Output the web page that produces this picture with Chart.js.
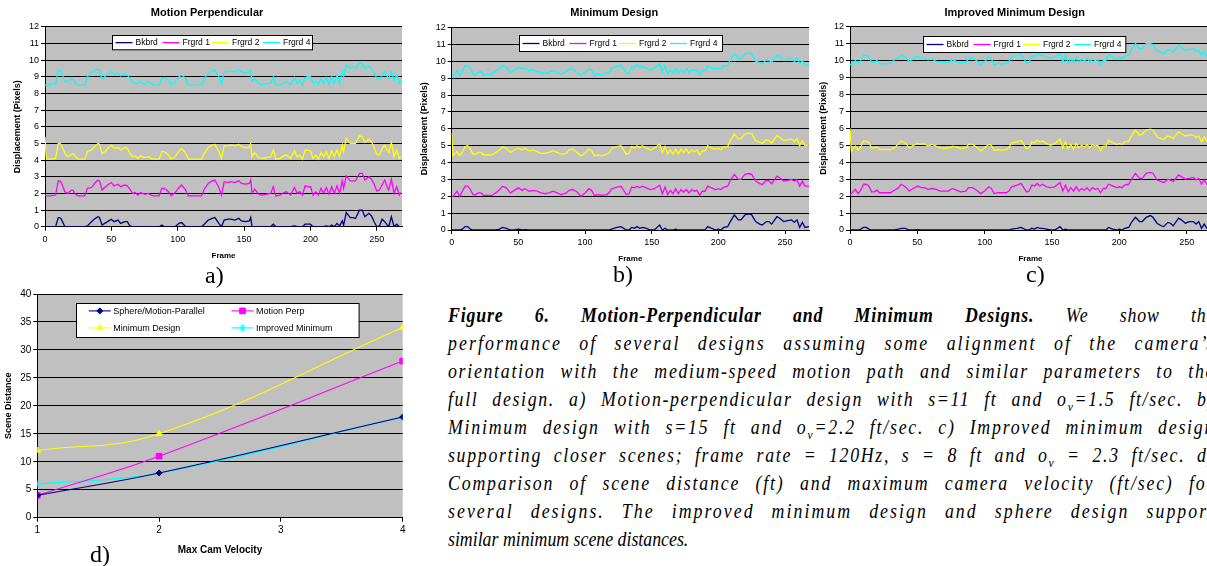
<!DOCTYPE html>
<html>
<head>
<meta charset="utf-8">
<title>Figure 6</title>
<script src="https://cdn.jsdelivr.net/npm/chart.js@4/dist/chart.umd.min.js"></script>
<style>
  html, body { margin: 0; padding: 0; background: #fff; }
  body { position: relative; width: 1207px; height: 566px; overflow: hidden; }
  canvas { position: absolute; }
  .tag { position: absolute; font-family: "Liberation Serif", "Times New Roman", serif; font-size: 24px; line-height: 24px; color: #000; }
  #caption { position: absolute; left: 448px; top: 301px; width: 862px; transform: scaleX(0.89); transform-origin: 0 0;
             font-family: "Liberation Serif", "Times New Roman", serif; font-style: italic; font-size: 20px; line-height: 28px; color: #000; }
  #caption div { text-align: justify; text-align-last: justify; height: 28px; white-space: nowrap; }
  #caption div.last { text-align-last: left; }
  #caption sub { font-size: 13px; line-height: 0; }
</style>
</head>
<body>
<canvas id="chartA" width="420" height="262" style="left:0;top:0"></canvas>
<canvas id="chartB" width="410" height="264" style="left:410px;top:0"></canvas>
<canvas id="chartC" width="412" height="264" style="left:810px;top:0"></canvas>
<canvas id="chartD" width="420" height="275" style="left:0;top:285px"></canvas>

<div class="tag" style="left:205px;top:263px">a)</div>
<div class="tag" style="left:613px;top:262px">b)</div>
<div class="tag" style="left:1026px;top:262px">c)</div>
<div class="tag" style="left:90px;top:542px">d)</div>

<div id="caption">
  <div data-spread="0.2"><span><b>Figure 6. Motion-Perpendicular and Minimum Designs.</b> We show the</span></div>
  <div><span>performance of several designs assuming some alignment of the camera’s</span></div>
  <div><span>orientation with the medium-speed motion path and similar parameters to the</span></div>
  <div><span>full design. a) Motion-perpendicular design with s=11 ft and o<sub>v</sub>=1.5 ft/sec. b)</span></div>
  <div><span>Minimum design with s=15 ft and o<sub>v</sub>=2.2 ft/sec. c) Improved minimum design</span></div>
  <div><span>supporting closer scenes; frame rate = 120Hz, s = 8 ft and o<sub>v</sub> = 2.3 ft/sec. d)</span></div>
  <div><span>Comparison of scene distance (ft) and maximum camera velocity (ft/sec) for</span></div>
  <div><span>several designs. The improved minimum design and sphere design support</span></div>
  <div class="last"><span>similar minimum scene distances.</span></div>
</div>

<script>
// ---- data ----

// a) Motion Perpendicular
const framesA = [
  0,1,4,8,10,11,12,15,17,20,
  21,23,25,30,32,35,38,40,41,43,
  45,48,50,52,55,57,60,62,64,66,
  68,70,72,75,78,80,82,86,88,90,
  93,95,98,101,103,106,108,118,120,123,
  126,128,131,133,135,138,140,143,146,148,
  151,154,155,156,158,161,164,167,170,172,
  174,177,180,182,185,188,190,192,194,196,
  198,200,202,204,206,208,210,212,214,216,
  218,220,222,224,225,227,230,232,234,237,
  239,241,244,246,248,250,252,254,256,258,
  259,261,263,265,267,268
];
const bkbrdA = [
  0,0,0,0,0.55,0.55,0.5,0,0,0,
  0,0,0,0,0.05,0.3,0.5,0.6,0.55,0.1,
  0.2,0.35,0.45,0.3,0.4,0.2,0.3,0.3,0.05,0,
  0,0,0,0,0,0,0,0,0.1,0,
  0,0,0,0.2,0.25,0,0,0,0.15,0.4,
  0.5,0.55,0.2,0,0.4,0.45,0.45,0.4,0.5,0.35,
  0.3,0.35,0.55,0,0,0,0,0,0,0.15,
  0,0,0,0,0,0.05,0,0,0,0.15,
  0.15,0.15,0,0,0,0,0,0.05,0,0.1,
  0,0.2,0.05,0.35,0.1,0.85,0.55,0.55,0.5,1.0,
  1.0,0.6,0.8,0.65,0.3,0,0.05,0.45,0.3,0.1,
  0,0.6,0,0.15,0,0
];
const frgrd1A = [
  1.9,1.85,1.85,1.9,2.75,2.75,2.7,2.1,2.0,2.2,
  2.2,1.95,1.85,1.85,2.3,2.35,2.65,2.8,2.75,2.2,
  2.35,2.55,2.65,2.45,2.55,2.4,2.5,2.45,2.25,2.0,
  2.05,1.9,2.05,1.95,2.0,1.9,1.85,1.85,2.3,2.3,
  2.1,1.85,2.05,2.35,2.5,2.2,1.85,1.85,2.25,2.6,
  2.75,2.8,2.35,1.9,2.7,2.65,2.7,2.65,2.75,2.6,
  2.55,2.6,2.8,2.0,2.25,1.95,1.9,1.95,2.0,2.4,
  1.85,1.9,2.05,2.1,1.9,2.35,2.0,2.1,1.9,2.45,
  2.4,2.4,1.9,2.1,1.9,2.3,2.0,2.35,1.95,2.4,
  2.0,2.45,2.0,2.75,2.3,3.05,2.75,2.75,2.75,3.2,
  3.2,2.8,3.0,2.85,2.55,2.15,2.2,2.5,2.8,2.35,
  2.2,2.85,2.0,2.4,1.9,2.05
];
const frgrd2A = [
  5.4,4.05,4.05,4.1,5.0,5.0,4.95,4.4,4.2,4.35,
  4.4,4.2,4.05,4.05,4.5,4.6,4.85,5.0,4.95,4.4,
  4.5,4.75,4.9,4.7,4.75,4.6,4.75,4.7,4.4,4.2,
  4.25,4.1,4.25,4.15,4.2,4.1,4.05,4.05,4.5,4.5,
  4.3,4.05,4.2,4.55,4.7,4.4,4.05,4.05,4.4,4.75,
  4.9,4.95,4.5,4.1,4.85,4.85,4.9,4.85,4.95,4.8,
  4.75,4.75,5.0,4.2,4.45,4.15,4.1,4.15,4.2,4.6,
  4.05,4.1,4.25,4.3,4.1,4.55,4.2,4.3,4.05,4.6,
  4.6,4.55,4.1,4.3,4.05,4.45,4.2,4.5,4.1,4.55,
  4.2,4.6,4.2,4.9,4.5,5.3,5.0,5.0,5.0,5.45,
  5.4,5.05,5.25,5.1,4.75,4.35,4.3,4.7,4.9,4.55,
  4.45,5.05,4.2,4.6,4.1,4.2
];
const frgrd4A = [
  8.5,8.5,8.55,8.55,9.4,9.4,9.35,8.7,8.7,8.9,
  8.85,8.6,8.5,8.5,9.0,9.25,9.4,9.45,9.4,8.85,
  9.0,9.2,9.3,9.15,9.2,9.05,9.15,9.1,8.9,8.7,
  8.6,8.6,8.7,8.55,8.7,8.6,8.5,8.5,8.9,8.95,
  8.8,8.5,8.7,9.0,9.1,8.9,8.5,8.5,8.9,9.2,
  9.35,9.4,9.0,8.55,9.3,9.3,9.35,9.3,9.4,9.3,
  9.2,9.3,9.4,8.7,8.9,8.6,8.5,8.6,8.6,9.0,
  8.5,8.5,8.6,8.7,8.5,8.95,8.6,8.8,8.5,8.95,
  9.0,9.0,8.6,8.7,8.55,8.9,8.6,8.95,8.55,9.0,
  8.6,9.1,8.6,9.3,9.0,9.7,9.5,9.6,9.5,9.85,
  9.8,9.5,9.65,9.5,9.2,8.9,8.8,9.1,9.3,9.0,
  8.9,9.3,8.8,9.1,8.6,8.8
];

// b) Minimum Design and c) Improved Minimum Design share the sampled frames
const framesBC = [
  0,1,4,6,8,10,12,14,16,18,
  20,22,24,30,33,36,38,41,44,47,
  50,53,55,58,61,64,67,70,73,76,
  79,82,86,88,91,94,97,100,103,105,
  107,110,113,116,118,120,124,127,131,133,
  135,137,139,141,143,146,149,152,156,158,
  160,162,164,166,168,170,172,174,176,178,
  180,182,184,186,188,190,192,195,198,200,
  202,204,207,209,212,215,217,220,223,225,
  228,231,233,236,238,240,244,246,249,252,
  255,257,259,261,263,265,268
];
const bkbrdB = [
  0,0,0,0,0.05,0.2,0.2,0.05,0,0,
  0,0,0,0,0,0.05,0.15,0.1,0,0,
  0.05,0,0.02,0,0,0,0,0,0,0,
  0,0,0,0,0,0,0,0,0,0,
  0,0,0,0,0,0.05,0.15,0.2,0,0,
  0.15,0.1,0.2,0.1,0.15,0.1,0,0,0.3,0,
  0.1,0,0,0,0.05,0,0,0,0,0,
  0,0,0,0,0,0,0.2,0.1,0,0.05,
  0,0.15,0.2,0.5,0.9,0.6,0.6,0.9,0.95,0.9,
  0.5,0.35,0.3,0.5,0.5,0.35,0.8,0.7,0.5,0.55,
  0.6,0.45,0.6,0.15,0.45,0.15,0.2
];
const frgrd1B = [
  2.0,2.0,2.3,2.0,2.3,2.6,2.6,2.4,2.1,2.1,
  2.2,2.2,2.05,2.05,2.2,2.4,2.6,2.5,2.2,2.35,
  2.5,2.35,2.45,2.3,2.35,2.3,2.2,2.15,2.2,2.3,
  2.2,2.1,2.2,2.35,2.4,2.25,2.0,2.2,2.45,2.35,
  2.05,2.1,2.05,2.1,2.2,2.45,2.55,2.6,2.1,2.15,
  2.55,2.5,2.6,2.5,2.6,2.5,2.4,2.45,2.65,2.15,
  2.55,2.1,2.35,2.15,2.45,2.15,2.4,2.25,2.4,2.2,
  2.4,2.3,2.35,2.05,2.3,2.3,2.6,2.5,2.4,2.45,
  2.4,2.55,2.6,2.95,3.3,3.0,3.0,3.3,3.35,3.3,
  2.9,2.75,2.7,2.95,2.9,2.75,3.2,3.1,2.9,2.95,
  3.0,2.9,3.0,2.6,2.9,2.6,2.6
];
const frgrd2B = [
  5.75,4.4,4.65,4.4,4.6,4.95,5.0,4.8,4.5,4.5,
  4.6,4.6,4.45,4.45,4.6,4.75,4.95,4.85,4.6,4.75,
  4.85,4.75,4.85,4.7,4.75,4.65,4.55,4.55,4.6,4.7,
  4.6,4.5,4.55,4.75,4.8,4.6,4.4,4.55,4.8,4.7,
  4.4,4.45,4.4,4.5,4.55,4.85,4.95,5.0,4.5,4.55,
  4.95,4.85,5.0,4.9,5.0,4.85,4.75,4.85,5.1,4.6,
  4.95,4.5,4.75,4.5,4.8,4.5,4.8,4.6,4.8,4.55,
  4.75,4.65,4.75,4.45,4.7,4.7,5.0,4.85,4.8,4.85,
  4.75,4.95,4.95,5.3,5.7,5.4,5.4,5.7,5.75,5.7,
  5.3,5.2,5.15,5.35,5.3,5.15,5.6,5.5,5.3,5.35,
  5.4,5.25,5.4,5.0,5.3,5.0,5.05
];
const frgrd4B = [
  9.1,9.1,9.45,9.15,9.4,9.75,9.75,9.6,9.25,9.25,
  9.35,9.4,9.2,9.25,9.45,9.6,9.75,9.65,9.35,9.45,
  9.65,9.55,9.6,9.45,9.5,9.4,9.35,9.3,9.35,9.45,
  9.35,9.25,9.4,9.55,9.55,9.35,9.15,9.35,9.55,9.5,
  9.15,9.25,9.2,9.3,9.3,9.6,9.7,9.8,9.3,9.3,
  9.7,9.65,9.8,9.65,9.7,9.6,9.5,9.6,9.85,9.35,
  9.75,9.25,9.5,9.3,9.6,9.3,9.5,9.35,9.6,9.35,
  9.5,9.45,9.5,9.2,9.45,9.45,9.75,9.6,9.55,9.6,
  9.55,9.75,9.75,10.1,10.45,10.2,10.15,10.45,10.5,10.45,
  10.0,9.95,9.85,10.1,10.05,9.95,10.35,10.3,10.05,10.15,
  10.15,10.0,10.2,9.85,10.05,9.75,9.8
];

const bkbrdC = [
  0,0,0,0,0.05,0.15,0.15,0.05,0,0,
  0,0,0,0,0,0.05,0.1,0.1,0,0,
  0.02,0,0,0,0,0,0,0,0,0,
  0,0,0,0,0,0,0,0,0,0,
  0,0,0,0,0,0.05,0.1,0.15,0,0,
  0.1,0.05,0.15,0.1,0.1,0.05,0,0,0.2,0,
  0.05,0,0,0,0,0,0,0,0,0,
  0,0,0,0,0,0,0.15,0.05,0,0.05,
  0,0.1,0.15,0.45,0.75,0.5,0.5,0.75,0.85,0.75,
  0.4,0.25,0.2,0.45,0.4,0.25,0.7,0.6,0.4,0.5,
  0.5,0.35,0.5,0.1,0.35,0.1,0.15
];
const frgrd1C = [
  2.1,2.15,2.4,2.15,2.35,2.7,2.7,2.6,2.25,2.25,
  2.35,2.2,2.2,2.2,2.35,2.5,2.7,2.55,2.3,2.45,
  2.6,2.5,2.5,2.4,2.45,2.4,2.3,2.3,2.3,2.45,
  2.35,2.25,2.3,2.5,2.5,2.35,2.15,2.3,2.55,2.45,
  2.15,2.2,2.2,2.2,2.3,2.55,2.65,2.75,2.25,2.3,
  2.65,2.6,2.75,2.6,2.7,2.55,2.5,2.55,2.8,2.3,
  2.65,2.25,2.5,2.3,2.55,2.3,2.45,2.35,2.5,2.3,
  2.5,2.4,2.45,2.2,2.45,2.45,2.7,2.6,2.5,2.55,
  2.5,2.65,2.7,3.0,3.35,3.05,3.05,3.35,3.4,3.35,
  2.95,2.85,2.8,3.0,2.95,2.85,3.25,3.15,3.0,3.05,
  3.1,2.95,3.05,2.7,2.95,2.7,2.75
];
const frgrd2C = [
  6.0,4.65,4.95,4.7,4.9,5.25,5.25,5.15,4.85,4.85,
  4.9,4.75,4.75,4.75,4.85,5.1,5.25,5.15,4.85,5.0,
  5.1,5.05,5.1,4.95,5.05,4.95,4.85,4.8,4.85,4.95,
  4.9,4.8,4.85,5.05,5.05,4.9,4.65,4.85,5.05,5.0,
  4.7,4.75,4.7,4.75,4.85,5.15,5.2,5.3,4.8,4.85,
  5.2,5.15,5.3,5.2,5.25,5.1,5.0,5.1,5.35,4.85,
  5.2,4.8,5.05,4.8,5.1,4.85,5.0,4.9,5.05,4.85,
  5.05,4.95,5.0,4.7,4.95,4.95,5.3,5.15,5.05,5.1,
  5.05,5.2,5.25,5.55,5.9,5.6,5.65,5.9,5.95,5.9,
  5.5,5.4,5.35,5.55,5.5,5.4,5.8,5.7,5.55,5.6,
  5.6,5.45,5.55,5.2,5.5,5.25,5.3
];
const frgrd4C = [
  9.8,9.75,10.0,9.8,10.0,10.3,10.3,10.2,9.9,9.9,
  10.0,9.85,9.8,9.85,10.05,10.2,10.3,10.2,9.95,10.1,
  10.25,10.15,10.15,10.05,10.1,9.95,9.9,9.9,9.9,10.05,
  9.95,9.85,9.9,10.1,10.15,10.0,9.75,9.95,10.2,10.1,
  9.75,9.85,9.8,9.85,9.95,10.2,10.3,10.4,9.85,9.9,
  10.3,10.25,10.4,10.3,10.35,10.2,10.15,10.2,10.45,9.9,
  10.3,9.85,10.1,9.9,10.2,9.9,10.1,9.95,10.15,9.9,
  10.1,10.0,10.05,9.75,10.0,10.0,10.35,10.2,10.1,10.2,
  10.1,10.3,10.3,10.65,11.0,10.7,10.7,11.0,11.0,10.95,
  10.55,10.5,10.4,10.65,10.6,10.5,10.9,10.8,10.6,10.65,
  10.7,10.55,10.6,10.3,10.55,10.25,10.35
];

const seriesNames = ['Bkbrd', 'Frgrd 1', 'Frgrd 2', 'Frgrd 4'];
const seriesColors = ['#000080', '#ff00ff', '#ffff00', '#00ffff'];

// d) scene distance vs max camera velocity
const camVelocity = [1, 2, 4];
const sphereParallel = [4, 8, 18];
const motionPerp = [4, 11, 28];
const minimumDesign = [12, 15, 34];
const improvedMinimum = [6, 8, 18];

// ---- caption: justified lines spread over letters as well as words ----
(function() {
  const target = 862;
  document.querySelectorAll('#caption div').forEach(function(line) {
    if (line.classList.contains('last')) return;
    const span = line.querySelector('span');
    // measure the natural width with justification switched off
    line.style.textAlign = 'left';
    line.style.textAlignLast = 'left';
    const extra = target - span.offsetWidth;
    line.style.textAlign = '';
    line.style.textAlignLast = '';
    const share = parseFloat(line.dataset.spread || '0.6');
    const chars = span.textContent.length;
    if (extra > 0) line.style.letterSpacing = (share * extra / chars).toFixed(2) + 'px';
  });
})();

// ---- plugins ----
Chart.defaults.font.family = '"Liberation Sans", Arial, sans-serif';
Chart.defaults.color = '#000';

const plotBg = {
  id: 'plotBg',
  beforeDraw(chart) {
    const a = chart.chartArea, ctx = chart.ctx;
    ctx.save();
    ctx.fillStyle = '#c0c0c0';
    ctx.fillRect(a.left, a.top, a.right - a.left, a.bottom - a.top);
    ctx.restore();
  }
};

// Excel style legend: white box with black frame inside the plot area
const boxLegend = {
  id: 'boxLegend',
  afterDraw(chart, args, o) {
    const ctx = chart.ctx, a = chart.chartArea;
    const bx = Math.round(a.left + o.x) + 0.5;
    const by = Math.round(a.top + o.y) + 0.5;
    ctx.save();
    ctx.fillStyle = '#fff';
    ctx.fillRect(bx, by, o.w, o.h);
    ctx.strokeStyle = '#000';
    ctx.lineWidth = 1;
    ctx.strokeRect(bx, by, o.w, o.h);
    ctx.font = o.font;
    ctx.textBaseline = 'middle';
    chart.data.datasets.forEach(function(ds, i) {
      const lx = bx + o.itemX[i], ly = by + o.itemY[i];
      ctx.strokeStyle = ds.borderColor;
      ctx.lineWidth = o.lineWidth;
      ctx.beginPath();
      ctx.moveTo(lx, ly);
      ctx.lineTo(lx + o.lineLen, ly);
      ctx.stroke();
      if (ds.pointRadius > 0 && Chart.helpers && Chart.helpers.drawPoint) {
        ctx.fillStyle = ds.backgroundColor;
        ctx.lineWidth = 1;
        Chart.helpers.drawPoint(ctx, { pointStyle: ds.pointStyle, radius: ds.pointRadius, borderWidth: 1, rotation: 0 }, lx + o.lineLen / 2, ly);
      }
      ctx.fillStyle = '#000';
      ctx.fillText(ds.label, lx + o.lineLen + o.gap, ly + 0.5);
    });
    ctx.restore();
  }
};

function xy(xs, ys) {
  return xs.map(function(x, i) { return { x: x, y: ys[i] }; });
}

// one of the three displacement charts
function frameChart(id, cfg) {
  const datasets = cfg.series.map(function(vals, i) {
    return {
      label: seriesNames[i],
      data: xy(cfg.frames, vals),
      borderColor: seriesColors[i],
      backgroundColor: seriesColors[i],
      borderWidth: 1.3,
      pointRadius: 0,
      tension: 0
    };
  });
  return new Chart(document.getElementById(id), {
    type: 'line',
    data: { datasets: datasets },
    plugins: [plotBg, boxLegend],
    options: {
      responsive: false,
      animation: false,
      events: [],
      layout: { padding: cfg.pad },
      plugins: {
        legend: { display: false },
        tooltip: { enabled: false },
        title: {
          display: true,
          text: cfg.title,
          font: { size: 11, weight: 'bold' },
          padding: cfg.titlePad
        },
        boxLegend: {
          x: cfg.legend.x, y: cfg.legend.y, w: cfg.legend.w, h: cfg.legend.h,
          itemX: [3, 50, 99.5, 150.5],
          itemY: [cfg.legend.h / 2, cfg.legend.h / 2, cfg.legend.h / 2, cfg.legend.h / 2],
          lineLen: 17, gap: 3, lineWidth: 1.3,
          font: '8.5px "Liberation Sans", Arial, sans-serif'
        }
      },
      scales: {
        x: {
          type: 'linear',
          min: 0,
          max: cfg.xMax,
          afterFit: function(s) { s.height = cfg.xH; },
          ticks: { stepSize: 50, includeBounds: false, font: { size: 9 }, padding: 3, maxRotation: 0 },
          grid: { drawOnChartArea: false, drawTicks: true, tickLength: 4, color: '#000' },
          border: { display: true, color: '#000', width: 1 },
          title: { display: true, text: 'Frame', font: { size: 8, weight: 'bold' }, padding: { top: 0, bottom: cfg.frameLblPad } }
        },
        y: {
          min: 0,
          max: 12,
          afterFit: function(s) { s.width = cfg.yW; },
          ticks: { stepSize: 1, font: { size: 9 }, padding: 2 },
          grid: { color: '#000', tickLength: 4 },
          border: { color: '#000' },
          title: { display: true, text: 'Displacement (Pixels)', font: { size: 9, weight: 'bold' }, padding: { top: 0, bottom: 0 } }
        }
      }
    }
  });
}

frameChart('chartA', {
  title: 'Motion Perpendicular',
  frames: framesA,
  series: [bkbrdA, frgrd1A, frgrd2A, frgrd4A],
  xMax: 269,
  pad: { left: 12.1, right: 18, top: 0, bottom: 0 },
  titlePad: { top: 6.1, bottom: 7.4 },
  yW: 32.9, xH: 35.3, frameLblPad: 1.2,
  legend: { x: 67, y: 8.3, w: 200, h: 14.3 }
});

frameChart('chartB', {
  title: 'Minimum Design',
  frames: framesBC,
  series: [bkbrdB, frgrd1B, frgrd2B, frgrd4B],
  xMax: 268,
  pad: { left: 9.6, right: 11, top: 0, bottom: 0 },
  titlePad: { top: 6.1, bottom: 8.4 },
  yW: 32.1, xH: 34, frameLblPad: 0.5,
  legend: { x: 67.3, y: 7.3, w: 203, h: 16 }
});

frameChart('chartC', {
  title: 'Improved Minimum Design',
  frames: framesBC,
  series: [bkbrdC, frgrd1C, frgrd2C, frgrd4C],
  xMax: 268,
  pad: { left: 8.6, right: 11.1, top: 0, bottom: 0 },
  titlePad: { top: 6.1, bottom: 7.4 },
  yW: 31.4, xH: 34, frameLblPad: 0.5,
  legend: { x: 72.7, y: 9.3, w: 202.3, h: 16 }
});

// d) comparison chart
function distSet(label, vals, color, style, radius) {
  return {
    label: label,
    data: xy(camVelocity, vals),
    borderColor: color,
    backgroundColor: color,
    borderWidth: 1.1,
    pointStyle: style,
    pointRadius: radius,
    pointBorderWidth: 1,
    tension: 0.4
  };
}

new Chart(document.getElementById('chartD'), {
  type: 'line',
  data: {
    datasets: [
      distSet('Sphere/Motion-Parallel', sphereParallel, '#000080', 'rectRot', 3),
      distSet('Motion Perp', motionPerp, '#ff00ff', 'rect', 4),
      distSet('Minimum Design', minimumDesign, '#ffff00', 'triangle', 3.5),
      distSet('Improved Minimum', improvedMinimum, '#00ffff', 'star', 3.5)
    ]
  },
  plugins: [plotBg, boxLegend],
  options: {
    responsive: false,
    animation: false,
    events: [],
    layout: { padding: { left: 2.9, right: 17.3, top: 9, bottom: 0 } },
    plugins: {
      legend: { display: false },
      tooltip: { enabled: false },
      boxLegend: {
        x: 38.4, y: 9.3, w: 282.6, h: 34,
        itemX: [12.3, 155, 12.3, 155],
        itemY: [7.4, 7.4, 24.4, 24.4],
        lineLen: 22, gap: 2.5, lineWidth: 1.1,
        font: '9px "Liberation Sans", Arial, sans-serif'
      }
    },
    scales: {
      x: {
        type: 'linear',
        min: 1,
        max: 4,
        afterFit: function(s) { s.height = 42.3; },
        ticks: { stepSize: 1, font: { size: 10 }, padding: 3, maxRotation: 0 },
        grid: { drawOnChartArea: false, drawTicks: true, tickLength: 4, color: '#000' },
        border: { display: true, color: '#000', width: 1 },
        title: { display: true, text: 'Max Cam Velocity', font: { size: 10, weight: 'bold' }, padding: { top: 0, bottom: 4 } }
      },
      y: {
        min: 0,
        max: 40,
        afterFit: function(s) { s.width = 34.4; },
        ticks: { stepSize: 5, font: { size: 10 }, padding: 2 },
        grid: { color: '#000', tickLength: 4 },
        border: { color: '#000' },
        title: { display: true, text: 'Scene Distance', font: { size: 9, weight: 'bold' }, padding: { top: 0, bottom: 0 } }
      }
    }
  }
});
</script>
</body>
</html>
